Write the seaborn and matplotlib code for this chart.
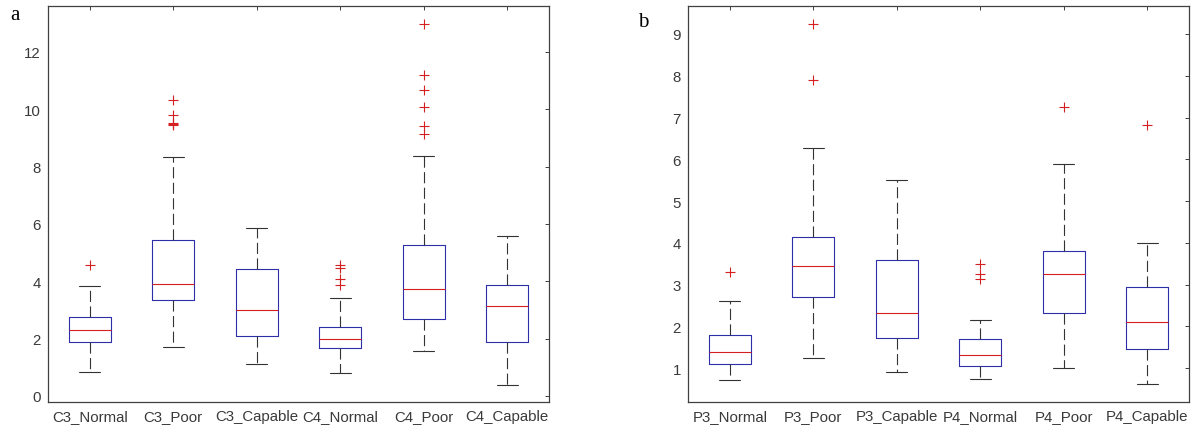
import pandas as pd
import numpy as np
import matplotlib.pyplot as plt
import seaborn as sns

sns.set_theme(style="white")
plt.rcParams['font.family'] = ['Liberation Sans', 'DejaVu Sans']

# --------------------------
# Values (five-number summary + outliers)
# --------------------------
groups_a = ["C3_Normal", "C3_Poor", "C3_Capable", "C4_Normal", "C4_Poor", "C4_Capable"]
low_a = [0.84, 1.72, 1.12, 0.79, 1.56, 0.38]
q1_a = [1.88, 3.36, 2.08, 1.67, 2.69, 1.88]
med_a = [2.29, 3.90, 3.01, 2.00, 3.74, 3.13]
q3_a = [2.77, 5.44, 4.42, 2.40, 5.27, 3.86]
high_a = [3.83, 8.34, 5.86, 3.41, 8.38, 5.58]
out_a = [[4.57],
         [10.31, 9.81, 9.52, 9.48, 9.44],
         [],
         [4.57, 4.47, 4.09, 3.86],
         [12.97, 11.19, 10.66, 10.07, 9.41, 9.14],
         []]

groups_b = ["P3_Normal", "P3_Poor", "P3_Capable", "P4_Normal", "P4_Poor", "P4_Capable"]
low_b = [0.72, 1.25, 0.92, 0.75, 1.00, 0.61]
q1_b = [1.10, 2.71, 1.72, 1.06, 2.33, 1.45]
med_b = [1.39, 3.44, 2.32, 1.31, 3.26, 2.11]
q3_b = [1.80, 4.15, 3.60, 1.69, 3.81, 2.94]
high_b = [2.60, 6.26, 5.51, 2.16, 5.88, 3.99]
out_b = [[3.31],
         [9.24, 7.91],
         [],
         [3.50, 3.25, 3.14],
         [7.26],
         [6.81]]

BLUE = "#2e2ea8"
RED = "#d42020"
DARK = "#333333"
TXT = "#3a3a3a"


def box_frame(groups, low, q1, med, q3, high):
    rows = []
    for g, a, b, c, d, e in zip(groups, low, q1, med, q3, high):
        for v in (a, b, c, d, e):
            rows.append({"group": g, "value": v})
    return pd.DataFrame(rows)


def out_frame(groups, outs):
    rows = [{"group": g, "value": v} for g, vs in zip(groups, outs) for v in vs]
    return pd.DataFrame(rows)


def draw(ax, groups, low, q1, med, q3, high, outs, ylim, yticks, letter, lx, ly):
    box_df = box_frame(groups, low, q1, med, q3, high)
    out_df = out_frame(groups, outs)

    # whiskers span min..max of the summary points; outliers drawn separately
    sns.boxplot(data=box_df, x="group", y="value", order=groups, ax=ax,
                whis=(0, 100), width=0.5, fill=False, linewidth=0.8,
                boxprops=dict(color=BLUE),
                medianprops=dict(color=RED),
                whiskerprops=dict(color=DARK, linestyle=(0, (10, 4))),
                capprops=dict(color=DARK))
    sns.stripplot(data=out_df, x="group", y="value", order=groups, ax=ax,
                  jitter=False, marker="+", color=RED, size=6.5, linewidth=0.8)

    ax.set_xlim(-0.5, len(groups) - 0.5)
    ax.set_ylim(*ylim)
    ax.set_yticks(yticks)
    ax.set_xlabel("")
    ax.set_ylabel("")
    for s in ax.spines.values():
        s.set_visible(True)
        s.set_color("#404040")
        s.set_linewidth(0.9)
    ax.tick_params(direction="in", length=3, width=0.7, color="#404040",
                   top=True, right=True, labelsize=10.8, labelcolor=TXT, pad=5)
    ax.figure.text(lx, ly, letter, family=["Liberation Serif", "DejaVu Serif"],
                   fontsize=15, color="black", va="baseline", ha="left")


fig = plt.figure(figsize=(11.97, 4.35), dpi=100)
W, H = 1197, 435
ax_a = fig.add_axes([48 / W, (H - 403) / H, 501 / W, 396 / H])
ax_b = fig.add_axes([688 / W, (H - 403) / H, 501 / W, 396 / H])

draw(ax_a, groups_a, low_a, q1_a, med_a, q3_a, high_a, out_a,
     (-0.21, 13.6), np.arange(0, 13, 2), "a", 10 / W, (H - 20) / H)
draw(ax_b, groups_b, low_b, q1_b, med_b, q3_b, high_b, out_b,
     (0.19, 9.67), np.arange(1, 10, 1), "b", 638 / W, (H - 27) / H)

fig.savefig("out.png", dpi=100)
